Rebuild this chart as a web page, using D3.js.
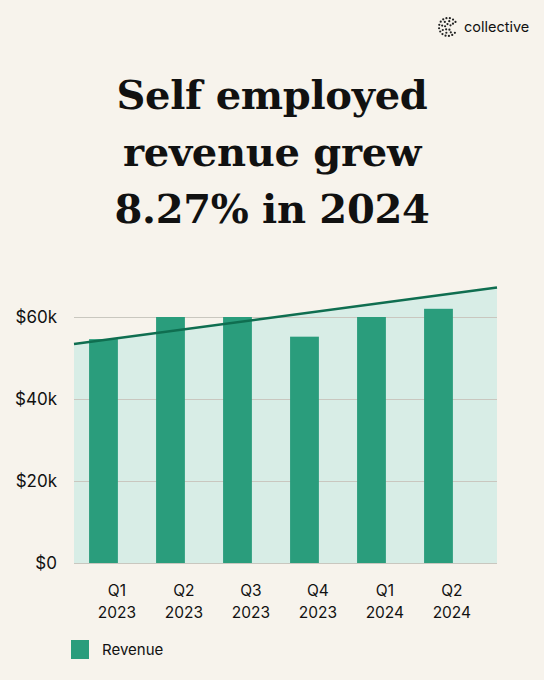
<!DOCTYPE html>
<html lang="en">
<head>
  <meta charset="UTF-8">
  <title>Self employed revenue</title>
  <script src="https://d3js.org/d3.v7.min.js"></script>
  <style>
    body { margin: 0; background: #f7f3ec; }
    .title { font-family: "DejaVu Serif", serif; font-weight: bold; font-size: 40px; fill: #111; text-anchor: middle; letter-spacing: -0.3px; }
    .tick text { font-family: Inter, "Noto Sans", sans-serif; font-size: 17px; fill: #111; }
    .grid line { stroke: #c9c7bf; stroke-width: 1.2; }
    .grid path { display: none; }
    .bar { fill: #2a9d7c; }
    .area { fill: #d8ede6; }
    .trend { fill: none; stroke: #0f6e50; stroke-width: 2.5; }
    .xlabel { font-family: Inter, "Noto Sans", sans-serif; font-size: 15.5px; fill: #111; text-anchor: middle; }
    .legend text { font-family: Inter, "Noto Sans", sans-serif; font-size: 15px; fill: #111; }
    .brand { font-family: Inter, "Noto Sans", sans-serif; font-size: 14.5px; fill: #111; }
  </style>
</head>
<body>
  <div id="chart"></div>
  <script>
    // chart data
    const quarters = ["Q1", "Q2", "Q3", "Q4", "Q1", "Q2"];
    const years = ["2023", "2023", "2023", "2023", "2024", "2024"];
    const revenue = [54600, 60000, 60000, 55200, 60000, 62000];
    const trend = [53400, 67200];      // trend line value at left and right edge of plot
    const yTicks = [0, 20000, 40000, 60000];
    const titleLines = ["Self employed", "revenue grew", "8.27% in 2024"];

    const W = 544, H = 680;
    const plot = { left: 74, right: 497, top: 270, bottom: 563 };

    const svg = d3.select("#chart")
      .append("svg")
      .attr("width", W)
      .attr("height", H);

    svg.append("rect").attr("width", W).attr("height", H).attr("fill", "#f7f3ec");

    // brand mark
    const logo = svg.append("g").attr("transform", "translate(448,27)");
    const dotAngles = d3.range(40, 330, 22);
    [9, 6, 3].forEach((r, i) => {
      logo.selectAll(null)
        .data(dotAngles.filter((a, j) => (j + i) % (i + 1) === 0))
        .enter()
        .append("circle")
        .attr("cx", a => r * Math.cos(a * Math.PI / 180))
        .attr("cy", a => r * Math.sin(a * Math.PI / 180))
        .attr("r", 1.1)
        .attr("fill", "#222");
    });
    svg.append("text").attr("class", "brand").attr("x", 464).attr("y", 32).text("collective");

    // title
    svg.selectAll(".title")
      .data(titleLines)
      .enter()
      .append("text")
      .attr("class", "title")
      .attr("x", W / 2)
      .attr("y", (d, i) => 109 + i * 57)
      .text(d => d);

    const idx = d3.range(revenue.length);

    const x = d3.scaleBand()
      .domain(idx)
      .range([plot.left, plot.left + 67 * revenue.length])
      .padding(0);
    const step = x.step();

    const y = d3.scaleLinear()
      .domain([0, 60000])
      .range([plot.bottom, 317]);

    const tx = d3.scaleLinear().domain([0, 1]).range([plot.left, plot.right]);

    // shaded area under the trend line
    const trendPts = trend.map((v, i) => [i, v]);
    svg.append("path")
      .datum(trendPts)
      .attr("class", "area")
      .attr("d", d3.area().x(d => tx(d[0])).y0(y(0)).y1(d => y(d[1])));

    // gridlines
    svg.append("g")
      .attr("class", "grid")
      .attr("transform", `translate(${plot.left},0)`)
      .call(d3.axisLeft(y).tickValues(yTicks).tickSize(-(plot.right - plot.left)).tickFormat(""));

    // y labels
    svg.append("g")
      .attr("transform", `translate(${plot.left - 17},0)`)
      .call(d3.axisLeft(y).tickValues(yTicks).tickSize(0).tickPadding(0)
        .tickFormat(d => d === 0 ? "$0" : `$${d / 1000}k`))
      .call(g => g.select(".domain").remove());

    // bars
    svg.selectAll(".bar")
      .data(revenue)
      .enter()
      .append("rect")
      .attr("class", "bar")
      .attr("x", (d, i) => x(i) + step * 0.225)
      .attr("width", step * 0.43)
      .attr("y", d => y(d))
      .attr("height", d => y(0) - y(d));

    // trend line
    svg.append("path")
      .datum(trendPts)
      .attr("class", "trend")
      .attr("d", d3.line().x(d => tx(d[0])).y(d => y(d[1])));

    // x labels
    const xl = svg.selectAll(".xlabel")
      .data(idx)
      .enter()
      .append("text")
      .attr("class", "xlabel")
      .attr("x", i => x(i) + step * 0.64)
      .attr("y", 596);
    xl.append("tspan").text(i => quarters[i]);
    xl.append("tspan").attr("x", i => x(i) + step * 0.64).attr("dy", 22).text(i => years[i]);

    // legend
    const legend = svg.append("g").attr("class", "legend").attr("transform", "translate(71,640)");
    legend.append("rect").attr("width", 18).attr("height", 19).attr("fill", "#2a9d7c");
    legend.append("text").attr("x", 31).attr("y", 15).text("Revenue");
  </script>
</body>
</html>
